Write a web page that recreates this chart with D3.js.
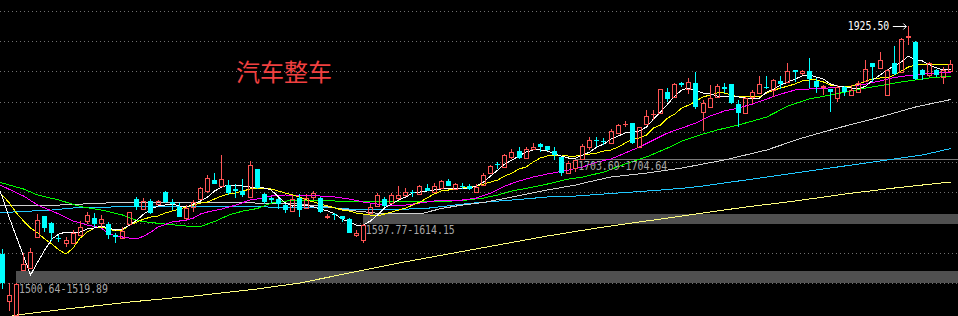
<!DOCTYPE html>
<html><head><meta charset="utf-8">
<script src="https://cdn.jsdelivr.net/npm/d3@7/dist/d3.min.js"></script>
<style>html,body{margin:0;padding:0;background:#000;overflow:hidden}</style>
</head><body><svg id="c" width="958" height="316"></svg>
<script>
const title = "汽车整车";
const open = [1548,1471,1447,1521.5,1524.3,1576.5,1610.8,1599.7,1573.9,1566.1,
1565.6,1579.3,1602.5,1607.0,1599.7,1597.5,1578.9,1573.9,1597.5,1638.4,
1621.8,1636.0,1630.6,1650.4,1633.4,1625.1,1607.0,1626.1,1638.4,1652.6,
1670.3,1660.3,1662.0,1654.9,1652.6,1642.7,1687.9,1647.1,1640.0,1638.9,
1628.9,1619.5,1640.0,1623.5,1642.7,1640.0,1609.9,1614.1,1610.8,1605.0,
1579.3,1571.9,1615.0,1627.3,1638.4,1631.7,1640.0,1645.5,1649.9,1647.1,
1656.5,1650.9,1656.5,1669.1,1654.9,1660.7,1660.8,1650.9,1662.0,1681.3,
1696.7,1692.2,1708.8,1718.2,1706.1,1721.0,1729.8,1726.5,1718.2,1708.8,
1682.3,1689.6,1705.5,1725.3,1735.6,1734.2,1731.9,1748.5,1762.3,1764.0,
1725.3,1762.8,1778.9,1780.5,1815.2,1807.0,1831.1,1820.2,1830.1,1783.2,
1791.4,1808.0,1823.5,1828.5,1795.9,1781.5,1808.0,1814.6,1824.0,1819.0,
1833.9,1832.7,1852.1,1846.6,1850.4,1833.9,1824.0,1820.2,1805.3,1824.5,
1810.8,1816.2,1834.4,1863.2,1854.9,1810.8,1864.2,1849.3,1906.1,1898.9,
1852.1,1843.8,1852.1,1841.0,1851.0];
const high = [1556,1500,1500.64,1549.6,1557.4,1614.9,1611.5,1600.8,1580.2,1575.5,
1587.6,1602.0,1617.9,1615.2,1612.4,1601.3,1582.2,1592.1,1618.2,1641.7,
1640.0,1638.4,1637.2,1652.6,1638.4,1631.7,1628.9,1637.2,1659.2,1678.5,
1682.3,1711.6,1670.3,1663.6,1671.4,1701.7,1688.4,1648.3,1642.7,1640.0,
1630.6,1645.5,1647.1,1646.6,1652.6,1642.7,1614.1,1615.7,1611.6,1607.0,
1587.6,1597.77,1630.6,1648.3,1642.2,1648.3,1660.3,1656.5,1654.2,1662.5,
1663.1,1664.8,1670.3,1671.4,1665.8,1664.8,1663.1,1663.1,1681.3,1695.1,
1700.5,1713.2,1721.0,1724.3,1724.3,1730.9,1731.9,1727.3,1725.3,1709.1,
1702.5,1703.69,1730.6,1740.8,1740.8,1739.7,1754.1,1762.8,1767.8,1764.5,
1757.9,1786.0,1786.0,1820.7,1821.8,1830.1,1832.7,1839.4,1849.3,1802.5,
1827.3,1828.9,1830.1,1828.9,1802.5,1808.0,1819.0,1842.2,1842.2,1836.7,
1842.2,1863.2,1852.5,1852.1,1871.4,1838.4,1827.3,1820.7,1827.3,1825.0,
1827.3,1834.4,1868.6,1863.5,1882.3,1853.7,1891.8,1904.5,1925.5,1900.0,
1853.2,1865.8,1853.2,1856.6,1868.6];
const low = [1490.1,1453.7,1430.6,1519.89,1523.6,1575.5,1584.3,1569.4,1567.8,1560.0,
1565.1,1578.5,1597.5,1593.1,1592.1,1572.2,1565.6,1573.2,1596.7,1620.7,
1620.7,1614.1,1628.9,1631.7,1620.7,1608.6,1604.1,1617.9,1637.2,1649.3,
1663.1,1659.5,1645.5,1640.0,1642.7,1640.0,1655.4,1630.6,1632.7,1622.3,
1616.2,1619.0,1608.6,1622.8,1637.2,1615.2,1605.3,1604.1,1601.3,1582.2,
1576.5,1565.6,1614.15,1626.5,1625.6,1630.6,1637.2,1642.7,1642.7,1645.5,
1652.1,1650.4,1655.9,1660.3,1653.7,1654.9,1653.7,1648.3,1660.8,1680.2,
1687.9,1691.2,1704.5,1705.0,1705.5,1719.9,1717.0,1719.0,1703.3,1676.9,
1681.3,1684.0,1704.64,1719.9,1725.3,1728.1,1730.9,1747.5,1757.4,1730.6,
1724.8,1761.7,1769.4,1780.2,1798.7,1805.3,1824.5,1812.4,1788.1,1751.3,
1790.4,1806.6,1813.6,1795.9,1757.4,1780.5,1795.9,1812.4,1820.2,1807.0,
1820.7,1831.8,1832.7,1843.8,1821.8,1813.6,1810.8,1783.2,1799.7,1809.1,
1809.1,1814.6,1832.7,1832.7,1853.7,1809.1,1843.8,1846.6,1893.4,1835.6,
1835.6,1841.0,1841.0,1828.9,1849.3];
const close = [1500.0,1480.2,1497.8,1531.4,1551.2,1604.1,1590.9,1583.5,1573.2,1571.1,
1582.2,1592.1,1612.4,1597.5,1605.3,1579.3,1575.5,1586.0,1617.4,1626.1,
1636.0,1616.2,1635.5,1634.4,1630.6,1609.6,1623.5,1634.4,1656.5,1673.1,
1663.6,1671.4,1649.3,1652.6,1645.5,1695.1,1656.5,1634.4,1637.2,1630.6,
1620.7,1638.4,1620.7,1640.0,1648.3,1617.9,1611.6,1611.9,1605.3,1583.1,
1582.2,1595.9,1626.1,1645.5,1628.1,1645.5,1645.0,1650.9,1648.8,1660.3,
1652.6,1660.3,1668.6,1660.8,1663.6,1659.5,1654.9,1659.2,1678.5,1693.4,
1695.6,1711.6,1717.0,1706.1,1721.0,1724.3,1725.3,1719.9,1711.6,1681.3,
1698.9,1703.3,1727.3,1736.4,1734.7,1733.1,1751.3,1761.2,1763.3,1730.9,
1757.4,1776.1,1779.9,1820.2,1804.1,1828.9,1826.8,1831.8,1790.4,1798.0,
1805.3,1825.6,1821.2,1797.0,1781.5,1805.3,1816.2,1828.9,1822.8,1835.6,
1828.9,1850.4,1849.3,1850.4,1837.2,1824.5,1825.1,1815.2,1823.5,1816.2,
1819.0,1830.1,1853.2,1856.6,1868.6,1852.1,1845.5,1903.8,1907.8,1837.2,
1843.8,1864.2,1843.8,1852.1,1862.0];

// moving averages, index -1 .. 134 (first value belongs to the bar just before the view)
const ma5 = [1670.3,1642.2,1607.4,1576.0,1544.6,1513.2,1534.7,1554.6,1572.7,1581.0,1584.3,
1582.7,1584.3,1589.3,1590.9,1594.2,1590.9,1587.6,1589.3,1595.9,1604.1,
1614.1,1622.3,1627.3,1628.9,1630.6,1627.3,1625.6,1630.6,1635.5,1642.2,
1652.1,1658.7,1662.0,1662.0,1660.3,1658.7,1658.7,1657.0,1653.7,1642.2,
1632.2,1627.3,1628.9,1628.9,1625.6,1622.3,1619.0,1614.1,1605.8,1600.8,
1595.9,1595.9,1602.5,1612.4,1624.0,1630.6,1637.2,1642.2,1648.8,1650.4,
1652.1,1653.7,1655.4,1657.0,1657.0,1657.0,1657.0,1660.3,1667.0,1676.9,
1686.8,1696.7,1703.3,1709.9,1716.5,1719.9,1719.9,1718.2,1713.2,1709.9,
1706.6,1706.6,1711.6,1716.5,1724.8,1729.8,1738.0,1743.0,1747.9,1749.6,
1751.3,1757.9,1771.1,1782.7,1795.9,1809.1,1819.0,1822.3,1817.4,1814.1,
1812.4,1809.1,1809.1,1809.1,1807.5,1805.8,1805.8,1805.8,1815.7,1820.7,
1827.3,1832.3,1837.2,1842.2,1843.8,1840.5,1837.2,1829.0,1825.6,1824.0,
1822.3,1820.7,1825.6,1835.6,1843.8,1852.1,1858.7,1865.3,1875.2,1868.6,
1867.0,1860.4,1855.4,1852.1,1853.7];
const ma10 = [1653.7,1645.5,1632.2,1615.7,1602.5,1590.9,1582.7,1572.7,1564.5,1554.6,1547.9,
1557.9,1574.4,1584.3,1590.9,1592.6,1589.3,1586.0,1587.6,1595.9,1600.8,
1605.8,1609.1,1610.8,1615.7,1619.0,1622.3,1625.6,1628.9,1632.2,1633.9,
1638.9,1643.8,1647.1,1648.8,1652.1,1655.4,1657.0,1657.0,1655.4,1652.1,
1648.8,1645.5,1642.2,1637.2,1633.9,1630.6,1627.3,1624.0,1620.7,1619.0,
1615.7,1614.1,1612.4,1610.8,1614.1,1617.4,1620.7,1624.0,1628.9,1633.9,
1640.5,1647.1,1652.1,1653.7,1655.4,1657.0,1658.7,1660.3,1663.6,1667.0,
1670.3,1676.9,1681.8,1688.4,1691.8,1700.0,1706.6,1709.9,1711.6,1711.6,
1709.9,1709.9,1711.6,1713.2,1714.9,1718.2,1719.9,1724.8,1731.4,1738.0,
1739.7,1744.6,1756.2,1761.2,1772.7,1779.4,1789.3,1794.2,1800.8,1807.5,
1810.8,1814.1,1814.1,1810.8,1807.5,1807.5,1807.5,1807.5,1814.1,1819.0,
1822.3,1825.6,1829.0,1833.9,1835.6,1835.6,1832.3,1827.3,1825.6,1825.6,
1825.6,1829.0,1833.9,1837.2,1838.9,1838.9,1843.8,1850.4,1857.0,1860.4,
1860.4,1862.0,1862.0,1862.0,1862.0];
// sparse readings [bar index, value]
const ma20 = [[-1,1663.6],[0,1660.3],[3,1643.8],[5,1628.9],[8,1614.1],[10,1602.5],[12,1595.9],[14,1590.9],[15,1581.0],[17,1576.0],[19,1572.7],[20,1577.7],[21,1584.3],[22,1592.6],[24,1600.8],[26,1604.1],[27,1607.4],[28,1614.1],[29,1617.4],[31,1622.3],[33,1628.9],[35,1637.2],[36,1638.9],[38,1643.8],[40,1645.5],[43,1644.6],[45,1643.8],[47,1642.2],[49,1638.9],[51,1633.9],[53,1630.6],[55,1627.3],[57,1628.9],[60,1633.9],[62,1637.2],[65,1637.2],[67,1640.5],[69,1648.8],[71,1660.3],[73,1668.6],[75,1675.2],[77,1680.2],[80,1686.8],[82,1691.8],[84,1700.0],[86,1705.0],[88,1714.9],[90,1724.8],[92,1736.4],[94,1748.0],[96,1756.2],[98,1764.5],[100,1776.1],[102,1784.3],[104,1789.3],[106,1795.9],[108,1804.2],[110,1812.4],[112,1819.0],[114,1820.7],[116,1821.5],[118,1824.0],[120,1825.6],[122,1829.0],[124,1833.9],[126,1839.7],[128,1843.0],[130,1845.5],[132,1847.1],[134,1848.8]];
const ma30 = [[-1,1667.0],[0,1665.3],[3,1655.4],[5,1645.5],[8,1637.2],[11,1626.5],[14,1620.7],[17,1612.4],[19,1603.3],[21,1600.0],[23,1597.5],[26,1594.2],[28,1593.4],[30,1601.7],[32,1612.4],[34,1619.0],[36,1623.1],[38,1632.2],[40,1635.5],[43,1636.4],[46,1636.0],[49,1634.7],[54,1634.4],[58,1635.5],[62,1634.7],[65,1636.4],[68,1640.5],[70,1645.5],[72,1652.1],[75,1658.7],[77,1663.6],[80,1671.9],[82,1675.2],[85,1683.5],[88,1696.7],[91,1708.3],[94,1723.2],[96,1734.7],[99,1746.3],[101,1752.9],[104,1761.2],[106,1767.8],[108,1774.4],[111,1792.6],[114,1804.2],[117,1810.8],[122,1822.3],[127,1832.3],[131,1838.9],[134,1842.2]];
const ma60 = [[-1,1628.9],[8,1628.9],[18,1633.9],[28,1633.9],[36,1632.2],[42,1630.6],[46,1625.6],[50,1619.0],[54,1614.1],[59,1614.1],[62,1623.1],[65,1628.9],[68,1633.1],[72,1642.2],[77,1653.7],[81,1662.0],[84,1670.3],[86,1675.2],[91,1681.8],[96,1690.1],[102,1703.3],[108,1719.9],[113,1739.7],[118,1756.2],[123,1771.1],[126,1781.0],[129,1790.9],[132,1798.4],[134,1803.3]];
const ma120 = [[-1,1615.7],[0,1616.5],[7,1620.7],[11,1625.1],[19,1626.1],[27,1627.3],[41,1625.1],[46,1625.1],[49,1622.3],[54,1620.7],[60,1623.5],[66,1631.7],[72,1637.2],[77,1642.2],[81,1643.8],[85,1647.1],[93,1653.7],[96,1656.5],[99,1660.3],[107,1673.6],[115,1686.8],[124,1701.7],[130,1711.6],[134,1722.3]];
const ma250 = [[0,1442.1],[2,1447.1],[9,1457.0],[18,1468.6],[27,1478.5],[36,1490.1],[42,1500.0],[49,1516.5],[56,1533.1],[63,1548.0],[70,1562.8],[77,1577.7],[84,1590.9],[91,1602.5],[98,1614.1],[105,1625.6],[112,1635.5],[119,1647.1],[126,1657.0],[134,1667.0]];

// unfilled gaps: bar index before gap, lower and upper bound
const gapIndex = [2, 51, 81];
const gapLow = [1500.64, 1597.77, 1703.69];
const gapHigh = [1519.89, 1614.15, 1704.64];
const gridValues = [1500,1550,1600,1650,1700,1750,1800,1850,1900,1950];
const maxIndex = 128, maxValue = 1925.50;

const W = 958, H = 316, n = open.length;
const svg = d3.select('#c');
svg.append('rect').attr('width', W).attr('height', H).attr('fill', '#000');

const x = d3.scaleLinear().domain([0, n - 1]).range([2.3, 950.8]);
const y = d3.scaleLinear().domain([1445.5, 1967.8]).range([H, 0]);

// grid
svg.append('g').selectAll('line').data(gridValues).join('line')
  .attr('x1', 0).attr('x2', W)
  .attr('y1', d => Math.round(y(d)) + 0.5).attr('y2', d => Math.round(y(d)) + 0.5)
  .attr('stroke', '#707070').attr('stroke-width', 1).attr('stroke-dasharray', '1,3')
  .attr('shape-rendering', 'crispEdges');

// gap bands
const gaps = gapIndex.map((g, k) => ({i: g, lo: gapLow[k], hi: gapHigh[k]}));
svg.append('g').selectAll('rect').data(gaps).join('rect')
  .attr('x', d => Math.floor(x(d.i)))
  .attr('width', d => W - Math.floor(x(d.i)))
  .attr('y', d => Math.round(y(d.hi)))
  .attr('height', d => Math.max(1, Math.round(y(d.lo)) - Math.round(y(d.hi))))
  .attr('fill', d => (y(d.lo) - y(d.hi) < 2) ? '#7a7a7a' : '#505050')
  .attr('shape-rendering', 'crispEdges');

// title
svg.append('text').attr('x', 236).attr('y', 81).text(title)
  .attr('fill', '#f04040').attr('font-family', '"Noto Sans CJK SC", sans-serif')
  .attr('font-size', 24);

// MA lines (index -1 start for dense arrays)
const dense = arr => arr.map((v, k) => [k - 1, v]);
const lineGen = d3.line().x(d => x(d[0])).y(d => y(d[1]));
const maSeries = [
  {data: ma250, color: '#ffff80'},
  {data: ma120, color: '#20c8ff'},
  {data: ma60, color: '#d0d0d0'},
  {data: ma30, color: '#00ff00'},
  {data: ma20, color: '#ff00ff'},
  {data: dense(ma10), color: '#ffff00'},
  {data: dense(ma5), color: '#ffffff'}
];
svg.append('g').selectAll('path').data(maSeries).join('path')
  .attr('d', d => lineGen(d.data)).attr('fill', 'none')
  .attr('stroke', d => d.color).attr('stroke-width', 1)
  .attr('shape-rendering', 'crispEdges');

// candles
const bars = d3.range(n).map(i => ({i, o: open[i], h: high[i], l: low[i], c: close[i]}));
const gC = svg.append('g').attr('shape-rendering', 'crispEdges');
const UP = '#ff5454', DOWN = '#00ffff';
bars.forEach(b => {
  const px = Math.floor(x(b.i));
  const up = b.c >= b.o;
  const col = up ? UP : DOWN;
  const yTop = Math.round(y(Math.max(b.o, b.c)));
  const yBot = Math.round(y(Math.min(b.o, b.c)));
  const yH = y(b.h), yL = y(b.l);
  if (up) {
    gC.append('line').attr('x1', px + 0.5).attr('x2', px + 0.5).attr('y1', yH).attr('y2', yTop).attr('stroke', col);
    gC.append('line').attr('x1', px + 0.5).attr('x2', px + 0.5).attr('y1', yBot).attr('y2', yL).attr('stroke', col);
    if (yBot - yTop < 1) {
      gC.append('rect').attr('x', px - 2).attr('y', yTop).attr('width', 5).attr('height', 1).attr('fill', col);
    } else {
      gC.append('rect').attr('x', px - 1.5).attr('y', yTop + 0.5).attr('width', 4).attr('height', yBot - yTop)
        .attr('fill', 'none').attr('stroke', col);
    }
  } else {
    gC.append('line').attr('x1', px + 0.5).attr('x2', px + 0.5).attr('y1', yH).attr('y2', yL).attr('stroke', col);
    gC.append('rect').attr('x', px - 2).attr('y', yTop).attr('width', 5)
      .attr('height', Math.max(1, yBot - yTop)).attr('fill', col);
  }
});

// gap labels
svg.append('g').selectAll('text').data(gaps).join('text')
  .attr('x', d => x(d.i) + 2.5).attr('y', d => y(d.lo) + 10.5)
  .text(d => d.lo.toFixed(2) + '-' + d.hi.toFixed(2))
  .attr('fill', '#a8a8a8').attr('font-family', '"DejaVu Sans Mono", monospace')
  .attr('font-size', 12).attr('textLength', 89).attr('lengthAdjust', 'spacingAndGlyphs');

// max marker
const mx = x(maxIndex), my = y(maxValue);
svg.append('text').attr('x', mx - 19).attr('y', my + 4).attr('text-anchor', 'end')
  .text(maxValue.toFixed(2)).attr('fill', '#ffffff')
  .attr('font-family', '"DejaVu Sans Mono", monospace').attr('font-size', 12)
  .attr('textLength', 41.6).attr('lengthAdjust', 'spacingAndGlyphs');
svg.append('path')
  .attr('d', `M${mx - 15.5},${Math.round(my) + 0.5}H${mx - 2}M${mx - 5},${Math.round(my) - 2.5}L${mx - 2},${Math.round(my) + 0.5}L${mx - 5},${Math.round(my) + 3.5}`)
  .attr('fill', 'none').attr('stroke', '#ffffff').attr('stroke-width', 1);
</script>
</body></html>
